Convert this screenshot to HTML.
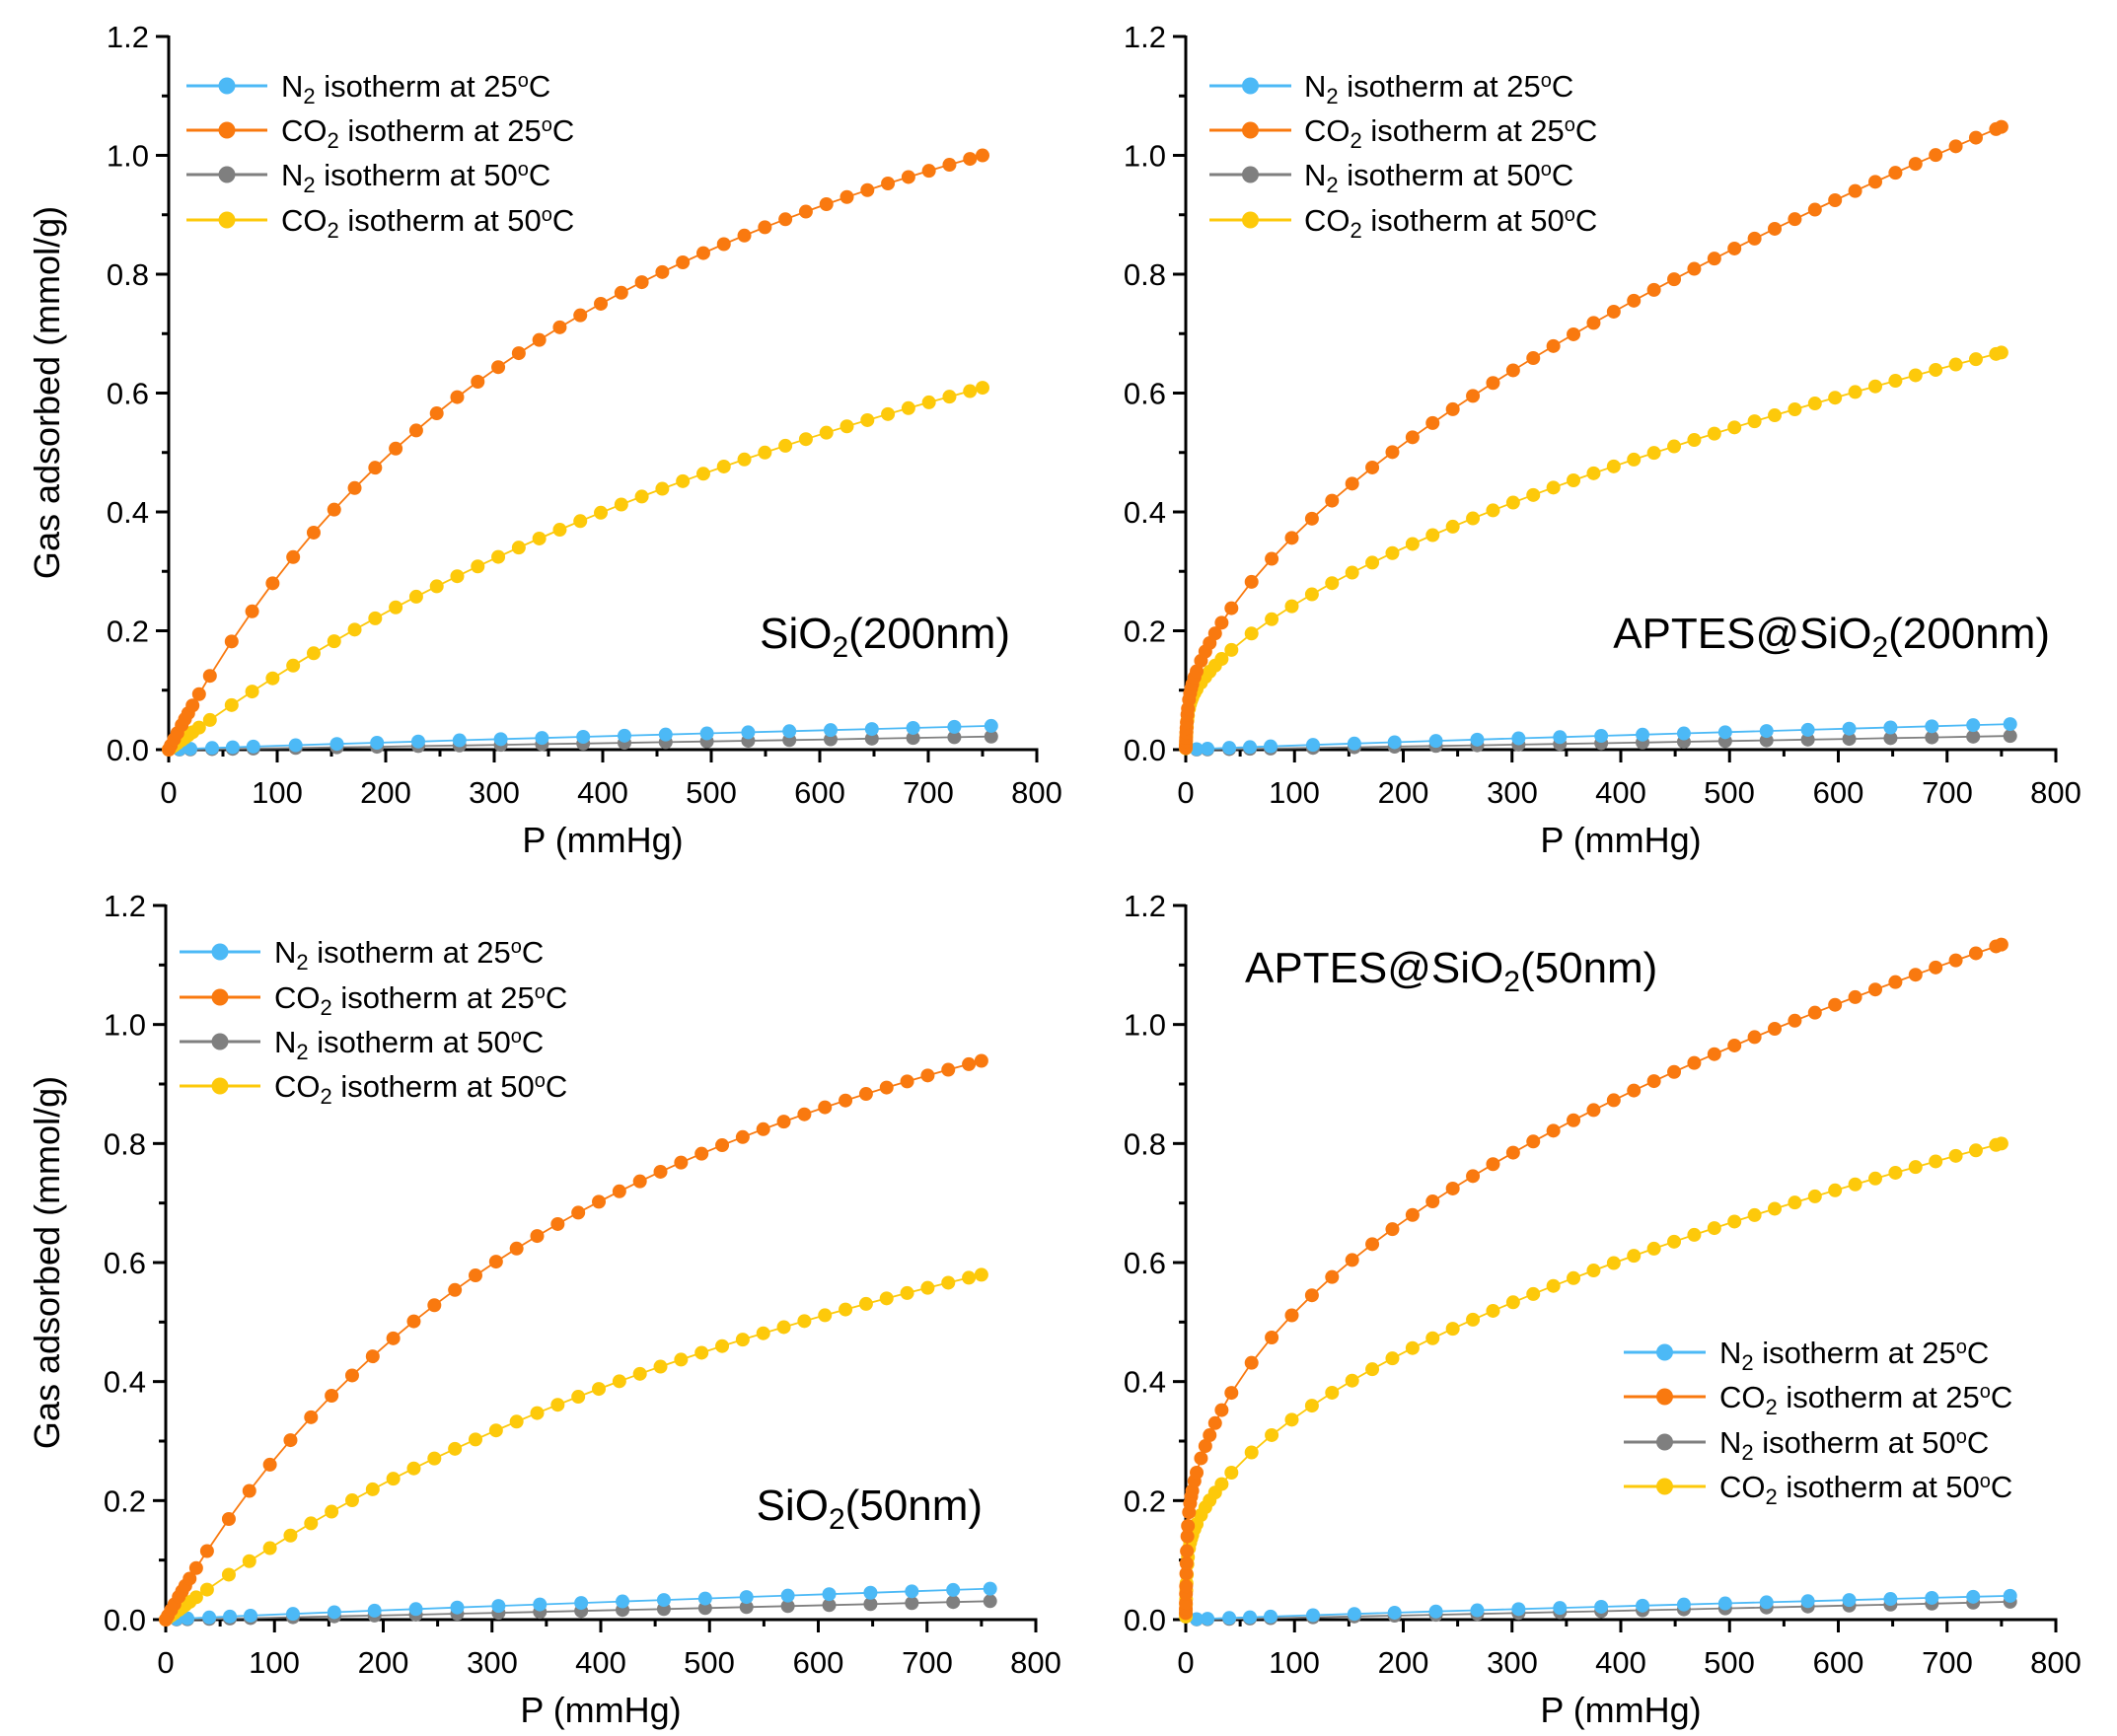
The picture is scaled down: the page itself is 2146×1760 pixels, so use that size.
<!DOCTYPE html>
<html><head><meta charset="utf-8"><style>
html,body{margin:0;padding:0;background:#fff;}
svg{display:block;font-family:"Liberation Sans Narrow","Liberation Sans",sans-serif;}
.t{font-size:31px;fill:#000;}
.ti{font-size:36px;fill:#000;}
.lg{font-size:31px;fill:#000;}
.an{font-size:44px;fill:#000;}
</style></head><body>
<svg id="s" width="2146" height="1760" viewBox="0 0 2146 1760" xmlns="http://www.w3.org/2000/svg">
<g id="data"></g>
<g transform="translate(171,760)">
<g class="t" text-anchor="middle"><text x="0" y="54">0</text><text x="110" y="54">100</text><text x="220" y="54">200</text><text x="330" y="54">300</text><text x="440" y="54">400</text><text x="550" y="54">500</text><text x="660" y="54">600</text><text x="770" y="54">700</text><text x="880" y="54">800</text></g>
<g class="t" text-anchor="end"><text x="-20" y="11">0.0</text><text x="-20" y="-109.5">0.2</text><text x="-20" y="-230">0.4</text><text x="-20" y="-350.5">0.6</text><text x="-20" y="-471">0.8</text><text x="-20" y="-591.5">1.0</text><text x="-20" y="-712">1.2</text></g>
</g>
<g transform="translate(1202,760)">
<g class="t" text-anchor="middle"><text x="0" y="54">0</text><text x="110" y="54">100</text><text x="220.5" y="54">200</text><text x="331" y="54">300</text><text x="441" y="54">400</text><text x="551" y="54">500</text><text x="661.5" y="54">600</text><text x="772" y="54">700</text><text x="882" y="54">800</text></g>
<g class="t" text-anchor="end"><text x="-20" y="11">0.0</text><text x="-20" y="-109.5">0.2</text><text x="-20" y="-230">0.4</text><text x="-20" y="-350.5">0.6</text><text x="-20" y="-471">0.8</text><text x="-20" y="-591.5">1.0</text><text x="-20" y="-712">1.2</text></g>
</g>
<g transform="translate(168,1642)">
<g class="t" text-anchor="middle"><text x="0" y="54">0</text><text x="110" y="54">100</text><text x="220.5" y="54">200</text><text x="331" y="54">300</text><text x="441" y="54">400</text><text x="551" y="54">500</text><text x="661.5" y="54">600</text><text x="772" y="54">700</text><text x="882" y="54">800</text></g>
<g class="t" text-anchor="end"><text x="-20" y="11">0.0</text><text x="-20" y="-109.7">0.2</text><text x="-20" y="-230.3">0.4</text><text x="-20" y="-351">0.6</text><text x="-20" y="-471.7">0.8</text><text x="-20" y="-592.3">1.0</text><text x="-20" y="-713">1.2</text></g>
</g>
<g transform="translate(1202,1642)">
<g class="t" text-anchor="middle"><text x="0" y="54">0</text><text x="110" y="54">100</text><text x="220.5" y="54">200</text><text x="331" y="54">300</text><text x="441" y="54">400</text><text x="551" y="54">500</text><text x="661.5" y="54">600</text><text x="772" y="54">700</text><text x="882" y="54">800</text></g>
<g class="t" text-anchor="end"><text x="-20" y="11">0.0</text><text x="-20" y="-109.7">0.2</text><text x="-20" y="-230.3">0.4</text><text x="-20" y="-351">0.6</text><text x="-20" y="-471.7">0.8</text><text x="-20" y="-592.3">1.0</text><text x="-20" y="-713">1.2</text></g>
</g>
<g class="ti" text-anchor="middle">
<text x="611" y="864">P (mmHg)</text>
<text x="1643" y="864">P (mmHg)</text>
<text x="609" y="1746">P (mmHg)</text>
<text x="1643" y="1746">P (mmHg)</text>
<text transform="translate(60,398) rotate(-90)">Gas adsorbed (mmol/g)</text>
<text transform="translate(60,1280) rotate(-90)">Gas adsorbed (mmol/g)</text>
</g>
<text class="an" x="1024" y="657" text-anchor="end">SiO<tspan dy="9" font-size="30">2</tspan><tspan dy="-9">(200nm)</tspan></text>
<text class="an" x="2078" y="657" text-anchor="end">APTES@SiO<tspan dy="9" font-size="30">2</tspan><tspan dy="-9">(200nm)</tspan></text>
<text class="an" x="996" y="1541" text-anchor="end">SiO<tspan dy="9" font-size="30">2</tspan><tspan dy="-9">(50nm)</tspan></text>
<text class="an" x="1262" y="996">APTES@SiO<tspan dy="9" font-size="30">2</tspan><tspan dy="-9">(50nm)</tspan></text>
<g id="legends"></g>
<g class="lg">
<text x="285" y="98">N<tspan dy="7" font-size="22">2</tspan><tspan dy="-7"> isotherm at 25</tspan><tspan dy="-10" font-size="20">o</tspan><tspan dy="10">C</tspan></text>
<text x="285" y="143">CO<tspan dy="7" font-size="22">2</tspan><tspan dy="-7"> isotherm at 25</tspan><tspan dy="-10" font-size="20">o</tspan><tspan dy="10">C</tspan></text>
<text x="285" y="188">N<tspan dy="7" font-size="22">2</tspan><tspan dy="-7"> isotherm at 50</tspan><tspan dy="-10" font-size="20">o</tspan><tspan dy="10">C</tspan></text>
<text x="285" y="234">CO<tspan dy="7" font-size="22">2</tspan><tspan dy="-7"> isotherm at 50</tspan><tspan dy="-10" font-size="20">o</tspan><tspan dy="10">C</tspan></text>

<text x="1322" y="98">N<tspan dy="7" font-size="22">2</tspan><tspan dy="-7"> isotherm at 25</tspan><tspan dy="-10" font-size="20">o</tspan><tspan dy="10">C</tspan></text>
<text x="1322" y="143">CO<tspan dy="7" font-size="22">2</tspan><tspan dy="-7"> isotherm at 25</tspan><tspan dy="-10" font-size="20">o</tspan><tspan dy="10">C</tspan></text>
<text x="1322" y="188">N<tspan dy="7" font-size="22">2</tspan><tspan dy="-7"> isotherm at 50</tspan><tspan dy="-10" font-size="20">o</tspan><tspan dy="10">C</tspan></text>
<text x="1322" y="234">CO<tspan dy="7" font-size="22">2</tspan><tspan dy="-7"> isotherm at 50</tspan><tspan dy="-10" font-size="20">o</tspan><tspan dy="10">C</tspan></text>

<text x="278" y="976">N<tspan dy="7" font-size="22">2</tspan><tspan dy="-7"> isotherm at 25</tspan><tspan dy="-10" font-size="20">o</tspan><tspan dy="10">C</tspan></text>
<text x="278" y="1022">CO<tspan dy="7" font-size="22">2</tspan><tspan dy="-7"> isotherm at 25</tspan><tspan dy="-10" font-size="20">o</tspan><tspan dy="10">C</tspan></text>
<text x="278" y="1067">N<tspan dy="7" font-size="22">2</tspan><tspan dy="-7"> isotherm at 50</tspan><tspan dy="-10" font-size="20">o</tspan><tspan dy="10">C</tspan></text>
<text x="278" y="1112">CO<tspan dy="7" font-size="22">2</tspan><tspan dy="-7"> isotherm at 50</tspan><tspan dy="-10" font-size="20">o</tspan><tspan dy="10">C</tspan></text>

<text x="1743" y="1382">N<tspan dy="7" font-size="22">2</tspan><tspan dy="-7"> isotherm at 25</tspan><tspan dy="-10" font-size="20">o</tspan><tspan dy="10">C</tspan></text>
<text x="1743" y="1427">CO<tspan dy="7" font-size="22">2</tspan><tspan dy="-7"> isotherm at 25</tspan><tspan dy="-10" font-size="20">o</tspan><tspan dy="10">C</tspan></text>
<text x="1743" y="1473">N<tspan dy="7" font-size="22">2</tspan><tspan dy="-7"> isotherm at 50</tspan><tspan dy="-10" font-size="20">o</tspan><tspan dy="10">C</tspan></text>
<text x="1743" y="1518">CO<tspan dy="7" font-size="22">2</tspan><tspan dy="-7"> isotherm at 50</tspan><tspan dy="-10" font-size="20">o</tspan><tspan dy="10">C</tspan></text>
</g>
</svg>
<script>
(function(){
var NS="http://www.w3.org/2000/svg";
var D=document.getElementById("data"), L=document.getElementById("legends");
function el(p,n,a){var e=document.createElementNS(NS,n);for(var k in a)e.setAttribute(k,a[k]);p.appendChild(e);return e;}
var C={b:"#4cb9f6",o:"#f9790f",g:"#7f7f7f",y:"#fdc90a"};
var panels=[
 {x0:171,x1:1051,y0:760,yt:37,
  co25:function(p){return 0.00354*p/(1+0.002207*p);},
  co50:function(p){return 0.00136*p/(1+0.0009*p);},
  n25:0.040,n50:0.022,low:false},
 {x0:1202,x1:2084,y0:760,yt:37,
  co25:function(p){return 0.0216*Math.pow(p,0.579)+0.05*(1-Math.exp(-p/1.5));},
  co50:function(p){return 0.01374*Math.pow(p,0.575)+0.05*(1-Math.exp(-p/1.5));},
  n25:0.043,n50:0.023,low:true},
 {x0:168,x1:1050,y0:1642,yt:918,
  co25:function(p){return 0.00328*p/(1+0.00216*p);},
  co50:function(p){return 0.00138*p/(1+0.001048*p);},
  n25:0.052,n50:0.031,low:false},
 {x0:1202,x1:2084,y0:1642,yt:918,
  co25:function(p){return 0.0519*Math.pow(p,0.452)+0.1*(1-Math.exp(-p/1));},
  co50:function(p){return 0.0251*Math.pow(p,0.507)+0.08*(1-Math.exp(-p/1));},
  n25:0.040,n50:0.030,low:true}
];
panels.forEach(function(P){
 var sx=(P.x1-P.x0)/800, sy=(P.y0-P.yt)/1.2;
 function X(p){return P.x0+p*sx;} function Y(v){return P.y0-v*sy;}
 el(D,"line",{x1:P.x0,y1:P.yt-1,x2:P.x0,y2:P.y0+1.5,stroke:"#000","stroke-width":3});
 el(D,"line",{x1:P.x0-1.5,y1:P.y0,x2:P.x1+1.5,y2:P.y0,stroke:"#000","stroke-width":3});
 for(var i=0;i<=16;i++){var x=P.x0+i*50*sx;el(D,"line",{x1:x,y1:P.y0,x2:x,y2:P.y0+(i%2?7:13),stroke:"#000","stroke-width":3});}
 for(var j=0;j<=12;j++){var y=P.y0-j*0.1*sy;el(D,"line",{x1:P.x0,y1:y,x2:P.x0-(j%2?7:13),y2:y,stroke:"#000","stroke-width":3});}
 var pc=[];
 if(P.low){[0.02,0.05,0.1,0.2,0.3,0.5,0.7,1,1.5,2,3,4,5,6,8,10,14,18,22,27,33].forEach(function(v){pc.push(v);});
   for(var p=42;p<=745;p+=18.5)pc.push(p);pc.push(750);}
 else{[0,2,5,8,12,15,18,22,28,38].forEach(function(v){pc.push(v);});
   for(var p=58;p<=745;p+=18.9)pc.push(p);pc.push(750);}
 var pn=[10,20,40,59,78,117,155,192,230,268,306,344,382,420,458,496,534,572,610,648,686,724,758];
 function series(ps,f,col){
  var pts=ps.map(function(p){return X(p).toFixed(1)+","+Y(f(p)).toFixed(1);});
  el(D,"polyline",{points:pts.join(" "),fill:"none",stroke:col,"stroke-width":1.8});
  ps.forEach(function(p){el(D,"circle",{cx:X(p),cy:Y(f(p)),r:7,fill:col});});
 }
 series(pn,function(p){return P.n50*Math.pow(p/758,1.1);},C.g);
 series(pn,function(p){return P.n25*Math.pow(p/758,0.9);},C.b);
 series(pc,P.co50,C.y);
 series(pc,P.co25,C.o);
});
[[189,271,[87,132,177,223]],[1226,1309,[87,132,177,223]],[182,264,[965,1011,1056,1101]],[1646,1729,[1371,1416,1462,1507]]].forEach(function(g){
 var cols=[C.b,C.o,C.g,C.y];
 g[2].forEach(function(y,k){el(L,"line",{x1:g[0],y1:y,x2:g[1],y2:y,stroke:cols[k],"stroke-width":3});
  el(L,"circle",{cx:(g[0]+g[1])/2,cy:y,r:8.5,fill:cols[k]});});
});
})();
</script>
</body></html>
